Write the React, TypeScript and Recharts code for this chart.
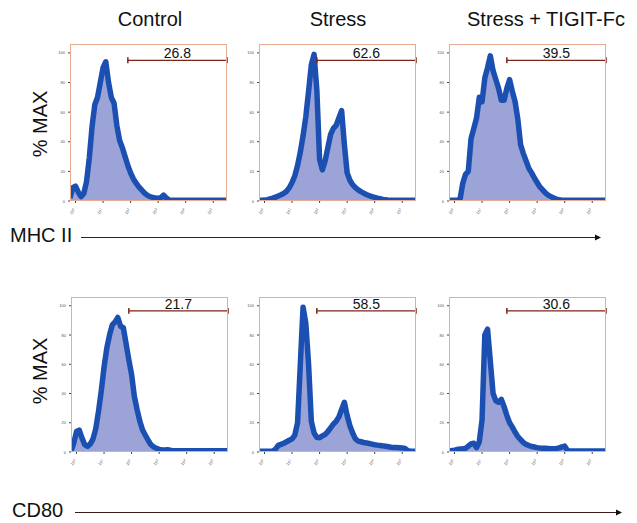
import React from 'react';
import { AreaChart, Area, XAxis, YAxis, ReferenceLine } from 'recharts';

// log10 bins of the fluorescence axis
const BINS = [
  -0.2, -0.1, 0, 0.1, 0.2, 0.3, 0.4, 0.5, 0.6, 0.7, 0.8, 0.9,
  1.0, 1.1, 1.2, 1.3, 1.4, 1.5, 1.6, 1.7, 1.8, 1.9,
  2.0, 2.1, 2.2, 2.3, 2.4, 2.5, 2.6, 2.7, 2.8, 2.9,
  3.0, 3.1, 3.2, 3.3, 3.4, 3.5, 3.6, 3.7, 3.8, 3.9,
  4.0, 4.1, 4.2, 4.3, 4.4, 4.5, 4.6, 4.7, 4.8, 4.9,
  5.0, 5.1, 5.2, 5.3, 5.4, 5.5,
];

const GROUPS = ['Control', 'Stress', 'Stress + TIGIT-Fc'];
const MARKERS = ['MHC II', 'CD80'];

// % MAX per bin
const MHC_CONTROL = [
  2, 9, 10, 6, 3, 5, 13, 29, 50, 65, 70, 80,
  90, 94, 80, 70, 66, 51, 41, 36, 30, 24,
  19, 15, 12, 9.5, 7.5, 5.5, 4, 3, 2.5, 2,
  1.8, 2.2, 4, 2, 0.6, 0.5, 0.5, 0.5, 0.5, 0.5,
  0.5, 0.5, 0.5, 0.5, 0.5, 0.5, 0.5, 0.5, 0.5, 0.5,
  0.5, 0.5, 0.5, 0.5, 0.5, 0.5,
];
const MHC_STRESS = [
  0.5, 0.5, 0.6, 0.9, 1.4, 1.9, 2.6, 3.4, 4.2, 5.2, 6.5, 9,
  12.5, 17, 24, 33, 44, 57, 74, 92, 99, 75,
  28, 21, 27, 36, 45, 49, 51, 56, 61, 38,
  19, 14, 11, 9, 7.5, 6.3, 5.3, 4.4, 3.6, 3,
  2.4, 1.9, 1.5, 1.1, 0.8, 0.5, 0.5, 0.5, 0.5, 0.5,
  0.5, 0.5, 0.5, 0.5, 0.5, 0.5,
];
const MHC_TIGIT = [
  0.5, 0.5, 0.5, 0.5, 1, 12, 18, 20, 42, 49, 56, 70,
  67, 83, 90, 98, 88, 82, 76, 68, 68, 76,
  82, 74, 67, 55, 38, 32, 27, 22, 19, 15.5,
  12.5, 9.5, 7.5, 5.5, 4, 3, 2, 1.3, 0.8, 0.5,
  0.5, 0.5, 0.5, 0.5, 0.5, 0.5, 0.5, 0.5, 0.5, 0.5,
  0.5, 0.5, 0.5, 0.5, 0.5, 0.5,
];
const CD80_CONTROL = [
  0.5, 6, 14, 15, 9.5, 5, 3.9, 5.5, 9, 16, 28, 42,
  58, 71, 80, 87, 89, 92, 86, 85, 74, 63,
  53, 38, 29, 21, 15, 11.5, 8, 5, 3.5, 2.5,
  1.8, 1.5, 1.4, 1.6, 1.2, 0.8, 0.8, 0.8, 0.8, 0.8,
  0.8, 0.8, 0.8, 0.8, 0.8, 0.8, 0.8, 0.8, 0.8, 0.8,
  0.8, 0.8, 0.8, 0.8, 0.8, 0.8,
];
const CD80_STRESS = [
  0.5, 0.5, 0.5, 0.5, 0.5, 0.5, 2, 4.5, 5.2, 6, 7, 8,
  9, 11.5, 20, 60, 99, 88, 60, 21, 13, 10,
  9.8, 11, 12, 14, 16.5, 19, 21, 24, 29, 34,
  25, 18, 13, 9, 7.5, 7, 6.5, 6.2, 5.8, 5.4,
  5, 4.7, 4.5, 4.2, 3.9, 3.6, 3.3, 3.1, 3, 2.9,
  2.8, 2.5, 1, 0.5, 0.5, 0.5,
];
const CD80_TIGIT = [
  0.8, 1, 1.3, 1.7, 2, 2.2, 2.5, 4, 5.5, 6, 3, 7,
  22, 80, 84, 62, 40, 35, 34, 36, 31, 25,
  20, 17, 13.5, 10.5, 8.5, 6.5, 5.2, 4.4, 3.8, 3.4,
  3, 2.7, 2.6, 2.5, 2.4, 2.3, 2.3, 2.4, 2.8, 3.5,
  4, 1, 0.6, 0.6, 0.6, 0.6, 0.6, 0.6, 0.6, 0.6,
  0.6, 0.6, 0.6, 0.6, 0.6, 0.6,
];

// gated % positive (gate from 10^1.9 to the top of the scale)
const MHC_GATE = ['26.8', '62.6', '39.5'];
const CD80_GATE = ['21.7', '58.5', '30.6'];

const X_TICKS = [0, 1, 2, 3, 4, 5];
const Y_TICKS = [0, 20, 40, 60, 80, 100];

const FONT = 'Arial, "Liberation Sans", sans-serif';
const LINE = '#1b50b2';
const FILL = '#9ca3d6';
const GATE = '#7a2618';

const XTick = ({ x, y, payload }: any) => (
  <g transform={`translate(${x},${y + 5}) rotate(-50)`}>
    <text fontSize={4} textAnchor="end" fill="#555" fontFamily={FONT}>
      10<tspan dy={-1.5} fontSize={3}>{payload.value}</tspan>
    </text>
  </g>
);

const YTick = ({ x, y, payload }: any) => (
  <text x={x - 1} y={y + 1.5} fontSize={4} textAnchor="end" fill="#555" fontFamily={FONT}>
    {payload.value}
  </text>
);

interface HistProps {
  values: number[];
  pct: string;
  gateY: number;
  left: number;
  top: number;
  height: number;
}

const Histogram: React.FC<HistProps> = ({ values, pct, gateY, left, top, height }) => {
  const data = BINS.map((x, i) => ({ x, y: values[i] }));
  const w = 157;
  return (
    <div style={{ position: 'absolute', left: left - 15, top: top - 4 }}>
      <AreaChart width={w + 19} height={height + 19} data={data} margin={{ top: 4, right: 4, left: 0, bottom: 0 }}>
        <XAxis
          dataKey="x"
          type="number"
          domain={[-0.2, 5.5]}
          ticks={X_TICKS}
          allowDataOverflow
          axisLine={false}
          tickLine={{ stroke: '#444' }}
          tickSize={2}
          tick={<XTick />}
          height={15}
        />
        <YAxis
          type="number"
          domain={[0, 106]}
          ticks={Y_TICKS}
          allowDataOverflow
          axisLine={false}
          tickLine={{ stroke: '#444' }}
          tickSize={2}
          tick={<YTick />}
          width={15}
        />
        <Area
          type="linear"
          dataKey="y"
          stroke={LINE}
          strokeWidth={5.5}
          strokeLinejoin="round"
          fill={FILL}
          fillOpacity={1}
          dot={false}
          activeDot={false}
          isAnimationActive={false}
        />
        <ReferenceLine
          segment={[{ x: 1.9, y: gateY }, { x: 5.5, y: gateY }]}
          stroke={GATE}
          strokeWidth={1.2}
          label={{ value: pct, position: 'top', fill: '#111', fontSize: 14, fontFamily: FONT, offset: 2 }}
        />
        <ReferenceLine segment={[{ x: 1.9, y: gateY - 2 }, { x: 1.9, y: gateY + 2 }]} stroke={GATE} strokeWidth={1.5} />
        <ReferenceLine segment={[{ x: 5.5, y: gateY - 2 }, { x: 5.5, y: gateY + 2 }]} stroke={GATE} strokeWidth={1.5} />
      </AreaChart>
      <div
        style={{
          position: 'absolute',
          left: 15,
          top: 4,
          width: w,
          height,
          boxSizing: 'border-box',
          border: '1px solid #e6ad94',
          pointerEvents: 'none',
        }}
      />
    </div>
  );
};

const COL_LEFT = [70, 259, 449];
const TITLE_CENTER = [150, 338, 546];

const label = (text: string, style: React.CSSProperties) => (
  <div style={{ position: 'absolute', fontFamily: FONT, fontSize: 20, color: '#111', whiteSpace: 'nowrap', lineHeight: '24px', ...style }}>
    {text}
  </div>
);

export default function App() {
  const rows = [
    { series: [MHC_CONTROL, MHC_STRESS, MHC_TIGIT], gates: MHC_GATE, top: 44, height: 157, gateY: 95 },
    { series: [CD80_CONTROL, CD80_STRESS, CD80_TIGIT], gates: CD80_GATE, top: 297, height: 155, gateY: 96.5 },
  ];
  return (
    <div style={{ position: 'absolute', left: 0, top: 0, width: 637, height: 523, background: '#fff', overflow: 'hidden' }}>
      {GROUPS.map((g, i) =>
        label(g, { left: TITLE_CENTER[i] - 100, width: 200, textAlign: 'center', top: 7 })
      )}
      {rows.map((r, ri) => (
        <React.Fragment key={ri}>
          {label('% MAX', {
            left: 40 - 50,
            top: (ri === 0 ? 124 : 371) - 12,
            width: 100,
            textAlign: 'center',
            transform: 'rotate(-90deg)',
          })}
          {r.series.map((vals, ci) => (
            <Histogram
              key={ci}
              values={vals}
              pct={r.gates[ci]}
              gateY={r.gateY}
              left={COL_LEFT[ci] + (ri === 1 && ci === 0 ? 1 : 0)}
              top={r.top}
              height={r.height}
            />
          ))}
        </React.Fragment>
      ))}
      {label(MARKERS[0], { left: 10, top: 223 })}
      {label(MARKERS[1], { left: 12, top: 498 })}
      <svg width={637} height={523} style={{ position: 'absolute', left: 0, top: 0, pointerEvents: 'none' }}>
        <line x1={81} y1={237.5} x2={596} y2={237.5} stroke="#3a1c16" strokeWidth={1} />
        <polygon points="601,237.5 595,234.5 595,240.5" fill="#111" />
        <line x1={75} y1={512.5} x2={617} y2={512.5} stroke="#3a1c16" strokeWidth={1} />
        <polygon points="622,512.5 616,509.5 616,515.5" fill="#111" />
      </svg>
    </div>
  );
}
